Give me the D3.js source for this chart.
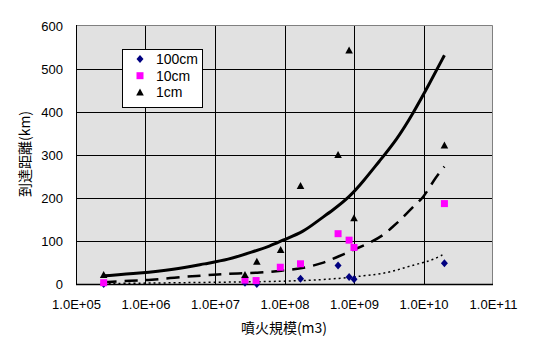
<!DOCTYPE html>
<html>
<head>
<meta charset="utf-8">
<script src="https://cdn.jsdelivr.net/npm/d3@7"></script>
<style>
  body { margin: 0; background: #fff; }
  svg { display: block; }
</style>
</head>
<body>
<div id="chart"></div>
<script>
// Data (volume in m3, reach in km)
const pts_100cm = [
    {v: 2.5e5, km: 0}, {v: 2.7e7, km: 3}, {v: 4e7, km: 0}, {v: 1.7e8, km: 12},
    {v: 5.9e8, km: 43}, {v: 8.5e8, km: 16}, {v: 1e9, km: 11}, {v: 2e10, km: 48}
];
const pts_10cm = [
    {v: 2.5e5, km: 3}, {v: 2.7e7, km: 9}, {v: 3.9e7, km: 8}, {v: 8.7e7, km: 39},
    {v: 1.7e8, km: 47}, {v: 5.9e8, km: 117}, {v: 8.5e8, km: 102}, {v: 1e9, km: 85},
    {v: 2e10, km: 187}
];
const pts_1cm = [
    {v: 2.5e5, km: 21}, {v: 2.7e7, km: 21}, {v: 4e7, km: 52}, {v: 8.8e7, km: 79},
    {v: 1.7e8, km: 228}, {v: 5.9e8, km: 300}, {v: 8.5e8, km: 543}, {v: 1e9, km: 153},
    {v: 2e10, km: 322}
];

// curves
const curve_1cm = [
    {v: 2.5e5, km: 19}, {v: 8.3e5, km: 25}, {v: 2.5e6, km: 33}, {v: 7.6e6, km: 48},
    {v: 1.5e7, km: 56}, {v: 3.5e7, km: 75}, {v: 6.2e7, km: 88}, {v: 9.5e7, km: 102},
    {v: 1.9e8, km: 122}, {v: 2.9e8, km: 145}, {v: 5e8, km: 172}, {v: 8.7e8, km: 203},
    {v: 1.35e9, km: 238}, {v: 2.3e9, km: 285}, {v: 4.1e9, km: 335}, {v: 7.1e9, km: 397},
    {v: 1.23e10, km: 467}, {v: 2e10, km: 532}
];
const curve_10cm = [
    {v: 2.5e5, km: 4}, {v: 6.2e5, km: 8}, {v: 1.2e6, km: 9}, {v: 2.6e6, km: 15},
    {v: 5.5e6, km: 19}, {v: 1.1e7, km: 22}, {v: 2.1e7, km: 25}, {v: 4.5e7, km: 26},
    {v: 9e7, km: 31}, {v: 1.8e8, km: 36}, {v: 3.5e8, km: 48}, {v: 6e8, km: 64},
    {v: 1.1e9, km: 83}, {v: 1.7e9, km: 96}, {v: 2.7e9, km: 114}, {v: 3.4e9, km: 130},
    {v: 4.6e9, km: 147}, {v: 7e9, km: 180}, {v: 1e10, km: 200}, {v: 1.4e10, km: 242},
    {v: 2e10, km: 273}
];
const curve_100cm = [
    {v: 2.5e5, km: 1}, {v: 1e6, km: 2}, {v: 1e7, km: 4}, {v: 1e8, km: 6},
    {v: 5e8, km: 11}, {v: 1.35e9, km: 19}, {v: 3e9, km: 25}, {v: 5.8e9, km: 40},
    {v: 1e10, km: 50}, {v: 1.4e10, km: 57}, {v: 2e10, km: 70}
];

const x_ticks = [1e5, 1e6, 1e7, 1e8, 1e9, 1e10, 1e11];
const x_tick_labels = ['1.0E+05', '1.0E+06', '1.0E+07', '1.0E+08', '1.0E+09', '1.0E+10', '1.0E+11'];
const y_ticks = [0, 100, 200, 300, 400, 500, 600];
const legend_labels = ['100cm', '10cm', '1cm'];

const chart_width = 556;
const chart_height = 354;
const plot_left = 76, plot_right = 493, plot_top = 26, plot_bottom = 284;
const num_font = '"Liberation Sans", Arial, sans-serif';
const jp_font = '"Noto Sans CJK JP", sans-serif';

// Scales
const x_scale = d3.scaleLog()
    .domain([1e5, 1e11])
    .range([plot_left, plot_right]);

const y_scale = d3.scaleLinear()
    .domain([0, 600])
    .range([plot_bottom, plot_top]);

// Create SVG
const svg = d3.select('#chart')
    .append('svg')
    .attr('width', chart_width)
    .attr('height', chart_height);

// plot area
svg.append('rect')
    .attr('x', plot_left)
    .attr('y', plot_top - 1)
    .attr('width', plot_right - plot_left)
    .attr('height', plot_bottom - plot_top + 1)
    .attr('fill', '#e1e1e1');

// gridlines
svg.append('g')
    .selectAll('line')
    .data(y_ticks.filter(d => d > 0 && d < 600))
    .join('line')
    .attr('x1', plot_left).attr('x2', plot_right)
    .attr('y1', d => Math.round(y_scale(d)) + 0.5)
    .attr('y2', d => Math.round(y_scale(d)) + 0.5)
    .attr('stroke', '#000');

svg.append('g')
    .selectAll('line')
    .data(x_ticks.slice(1, -1))
    .join('line')
    .attr('x1', d => Math.round(x_scale(d)) + 0.5)
    .attr('x2', d => Math.round(x_scale(d)) + 0.5)
    .attr('y1', plot_top - 1).attr('y2', plot_bottom)
    .attr('stroke', '#000');

// gray border top/right
svg.append('path')
    .attr('d', `M${plot_left},${plot_top - 0.5}H${plot_right - 0.5}V${plot_bottom}`)
    .attr('fill', 'none')
    .attr('stroke', '#808080');

// Axes
const x_axis = d3.axisBottom(x_scale)
    .tickValues(x_ticks)
    .tickSize(0)
    .tickPadding(16)
    .tickFormat((d, i) => x_tick_labels[i]);

const y_axis = d3.axisLeft(y_scale)
    .tickValues(y_ticks)
    .tickSize(0)
    .tickPadding(13);

const gx = svg.append('g')
    .attr('transform', `translate(0, ${plot_bottom})`)
    .call(x_axis);

const gy = svg.append('g')
    .attr('transform', `translate(${plot_left}, 0)`)
    .call(y_axis);

[gx, gy].forEach(g => {
    g.select('.domain').remove();
    g.selectAll('text')
        .attr('font-family', num_font)
        .attr('font-size', 13)
        .attr('fill', '#000');
});

svg.append('line')
    .attr('x1', plot_left + 0.5).attr('x2', plot_left + 0.5)
    .attr('y1', plot_top - 1).attr('y2', plot_bottom + 1)
    .attr('stroke', '#000');
svg.append('line')
    .attr('x1', plot_left).attr('x2', plot_right)
    .attr('y1', plot_bottom + 0.5).attr('y2', plot_bottom + 0.5)
    .attr('stroke', '#000')
    .attr('stroke-width', 1.5);

// Create Lines (smoothed through the read points)
const line = d3.line()
    .x(d => x_scale(d.v))
    .y(d => y_scale(d.km))
    .curve(d3.curveBasis);

svg.append('path')
    .datum(curve_100cm)
    .attr('fill', 'none')
    .attr('stroke', '#000')
    .attr('stroke-width', 1.5)
    .attr('stroke-dasharray', '2,3')
    .attr('d', line);

svg.append('path')
    .datum(curve_10cm)
    .attr('fill', 'none')
    .attr('stroke', '#000')
    .attr('stroke-width', 2.5)
    .attr('stroke-dasharray', '13,8')
    .attr('d', line);

svg.append('path')
    .datum(curve_1cm)
    .attr('fill', 'none')
    .attr('stroke', '#000')
    .attr('stroke-width', 3)
    .attr('d', line);

// Markers
const diamond = 'M0,-4L3.5,0L0,4L-3.5,0Z';
const square = 'M-3.5,-3.5H3.5V3.5H-3.5Z';
const triangle = 'M0,-4L3.8,3L-3.8,3Z';

const series = [
    {data: pts_100cm, shape: diamond, color: '#000080'},
    {data: pts_10cm, shape: square, color: '#ff00ff'},
    {data: pts_1cm, shape: triangle, color: '#000'}
];

series.forEach(s => {
    svg.append('g')
        .selectAll('path')
        .data(s.data)
        .join('path')
        .attr('transform', d => `translate(${x_scale(d.v)}, ${y_scale(d.km)})`)
        .attr('d', s.shape)
        .attr('fill', s.color);
});

// Legend
const legend = svg.append('g');
legend.append('rect')
    .attr('x', 122.5).attr('y', 49.5)
    .attr('width', 80).attr('height', 58)
    .attr('fill', '#fff')
    .attr('stroke', '#000');

series.forEach((s, i) => {
    const yy = 59 + i * 16.7;
    legend.append('path')
        .attr('transform', `translate(140, ${yy})`)
        .attr('d', s.shape)
        .attr('fill', s.color);
    legend.append('text')
        .attr('x', 156)
        .attr('y', yy + 5)
        .attr('font-family', num_font)
        .attr('font-size', 14)
        .text(legend_labels[i]);
});

// Titles
svg.append('text')
    .attr('x', 284)
    .attr('y', 333)
    .attr('text-anchor', 'middle')
    .attr('font-family', jp_font)
    .attr('font-size', 14)
    .text('噴火規模(m3)');

svg.append('text')
    .attr('transform', 'translate(30, 154) rotate(-90)')
    .attr('text-anchor', 'middle')
    .attr('font-family', jp_font)
    .attr('font-size', 14)
    .text('到達距離(km)');
</script>
</body>
</html>
